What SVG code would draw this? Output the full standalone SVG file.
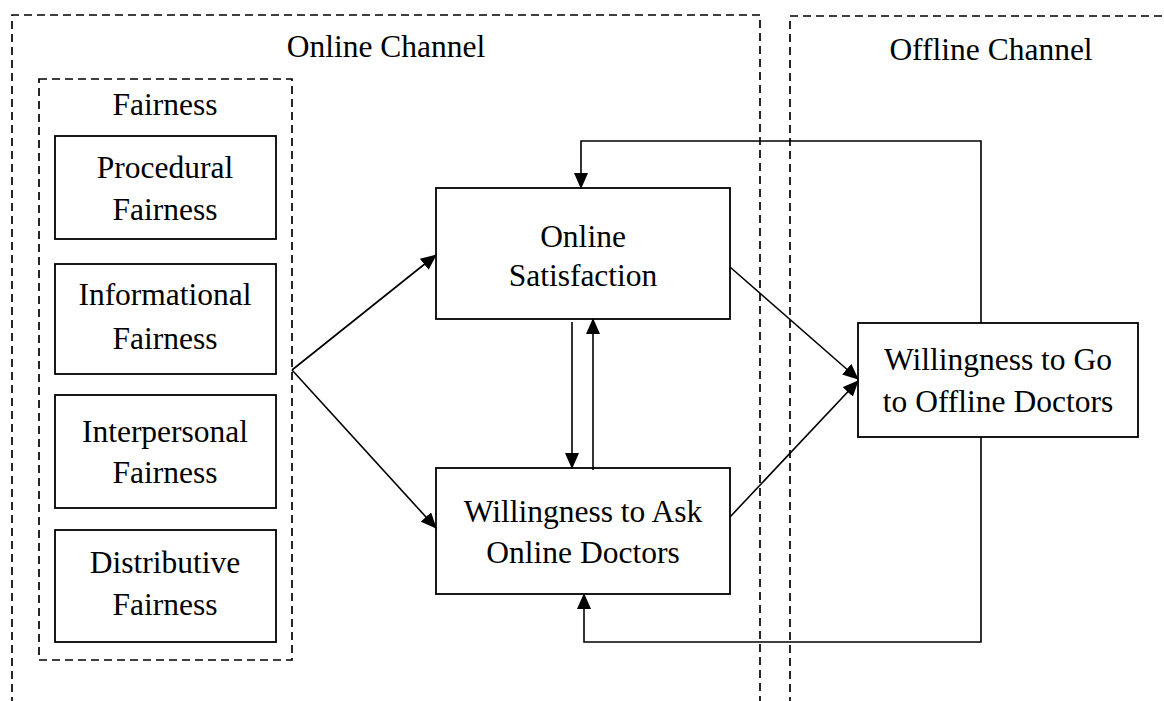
<svg xmlns="http://www.w3.org/2000/svg" width="1164" height="701" viewBox="0 0 1164 701">
<style>
.dash{fill:none;stroke:#000;stroke-width:1.7;stroke-dasharray:8 5}
.box{fill:#fff;stroke:#000;stroke-width:1.8}
.ln{fill:none;stroke:#000;stroke-width:1.6}
text{font-family:"Liberation Serif","Times New Roman",serif;font-size:31.5px;fill:#000;text-anchor:middle}
</style>
<defs>
<marker id="ah" markerWidth="16" markerHeight="14" refX="15" refY="7" orient="auto" markerUnits="userSpaceOnUse">
<path d="M0,0 L16,7 L0,14 Z" fill="#000"/>
</marker>
</defs>
<rect width="1164" height="701" fill="#fff"/>
<g id="online-channel">
<path class="dash" d="M12,705 V15 H760 V705"/>
<text x="386" y="57">Online Channel</text>
</g>
<g id="offline-channel">
<path class="dash" d="M790,705 V16 H1170"/>
<text x="991" y="60">Offline Channel</text>
</g>
<g id="fairness">
<rect class="dash" x="39" y="79" width="253" height="581"/>
<text x="165" y="115">Fairness</text>
</g>
<g id="procedural">
<rect class="box" x="55" y="136" width="221" height="103"/>
<text x="165" y="178">Procedural</text>
<text x="165" y="220">Fairness</text>
</g>
<g id="informational">
<rect class="box" x="55" y="264" width="221" height="110"/>
<text x="165" y="305">Informational</text>
<text x="165" y="349">Fairness</text>
</g>
<g id="interpersonal">
<rect class="box" x="55" y="395" width="221" height="113"/>
<text x="165" y="442">Interpersonal</text>
<text x="165" y="483">Fairness</text>
</g>
<g id="distributive">
<rect class="box" x="55" y="530" width="221" height="112"/>
<text x="165" y="573">Distributive</text>
<text x="165" y="615">Fairness</text>
</g>
<g id="online-satisfaction">
<rect class="box" x="436" y="188" width="294" height="131"/>
<text x="583" y="247">Online</text>
<text x="583" y="286">Satisfaction</text>
</g>
<g id="ask-online">
<rect class="box" x="436" y="468" width="294" height="126"/>
<text x="583" y="522">Willingness to Ask</text>
<text x="583" y="563">Online Doctors</text>
</g>
<g id="go-offline">
<rect class="box" x="858" y="323" width="280" height="114"/>
<text x="998" y="370">Willingness to Go</text>
<text x="998" y="412">to Offline Doctors</text>
</g>
<g id="connectors">
<path class="ln" d="M292,370 L436,255" marker-end="url(#ah)"/>
<path class="ln" d="M292,370 L436,528" marker-end="url(#ah)"/>
<path class="ln" d="M572,322 V468" marker-end="url(#ah)"/>
<path class="ln" d="M593,470 V319" marker-end="url(#ah)"/>
<path class="ln" d="M730,267 L858,379" marker-end="url(#ah)"/>
<path class="ln" d="M730,517 L858,381" marker-end="url(#ah)"/>
<path class="ln" d="M981,323 V141 H581 V188" marker-end="url(#ah)"/>
<path class="ln" d="M981,437 V642 H584 V594" marker-end="url(#ah)"/>
</g>
</svg>
